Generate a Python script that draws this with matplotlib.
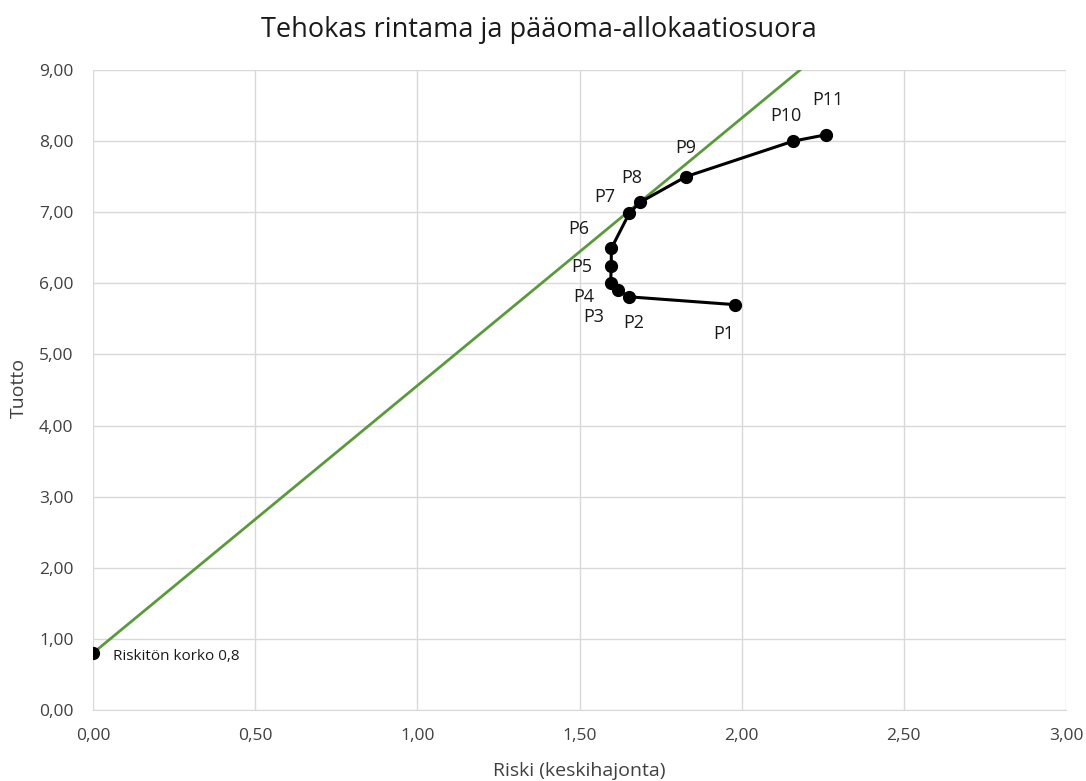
import matplotlib
matplotlib.use("Agg")
import matplotlib.pyplot as plt
from matplotlib.ticker import FuncFormatter, MultipleLocator

plt.rcParams['font.family'] = ['Open Sans', 'DejaVu Sans']

# tehokas rintama (portfoliot P1..P11)
labels = ["P1", "P2", "P3", "P4", "P5", "P6", "P7", "P8", "P9", "P10", "P11"]
risk = [1.98, 1.654, 1.619, 1.596, 1.598, 1.598, 1.654, 1.687, 1.828, 2.159, 2.261]
ret = [5.70, 5.81, 5.90, 6.01, 6.24, 6.49, 6.99, 7.14, 7.50, 8.00, 8.09]

# pääoma-allokaatiosuora
cal_x = [0.0, 2.18]
cal_y = [0.8, 9.0]
rf_x, rf_y = 0.0, 0.8

# label offsets in pixels
offsets = [(-11, -29), (4, -26), (-24, -27), (-27, -14), (-30, -1), (-33, 19),
           (-25, 16), (-8, 24), (0, 29), (-7, 25), (2, 35)]

W, H = 1086, 781
fig = plt.figure(figsize=(W / 100, H / 100), dpi=100)
ax = fig.add_axes([93 / W, 1 - 710 / H, 973 / W, 640 / H])

ax.plot(cal_x, cal_y, color="#5b9a3c", lw=2.0, zorder=2)
ax.plot(risk, ret, color="black", lw=2.2, marker="o", ms=8.5, zorder=3)
ax.plot([rf_x], [rf_y], color="black", marker="o", ms=8.5, zorder=3)

for lab, x, y, off in zip(labels, risk, ret, offsets):
    ax.annotate(lab, (x, y), xytext=off, textcoords="offset pixels",
                ha="center", va="center", fontsize=13, color="#1a1a1a")
ax.annotate("Riskitön korko 0,8", (rf_x, rf_y), xytext=(20, -3),
            textcoords="offset pixels", ha="left", va="center",
            fontsize=11, color="#1a1a1a")

ax.set_xlim(0, 3)
ax.set_ylim(0, 9)
ax.xaxis.set_major_locator(MultipleLocator(0.5))
ax.yaxis.set_major_locator(MultipleLocator(1.0))
fmt = FuncFormatter(lambda v, p: f"{v:.2f}".replace(".", ","))
ax.xaxis.set_major_formatter(fmt)
ax.yaxis.set_major_formatter(fmt)
ax.grid(True, color="#d9d9d9", lw=1.0, zorder=0)
ax.set_axisbelow(True)
for s in ["top", "right", "left"]:
    ax.spines[s].set_visible(False)
ax.spines["bottom"].set_color("#d9d9d9")
ax.tick_params(length=0, labelsize=12.5, colors="#404040")
ax.tick_params(axis="x", pad=13)
ax.tick_params(axis="y", pad=14)

fig.text(579 / W, 1 - 771 / H, "Riski (keskihajonta)", ha="center", va="center",
         fontsize=14, color="#404040")
fig.text(19 / W, 1 - 388 / H, "Tuotto", ha="center", va="center", rotation=90,
         fontsize=14, color="#404040")
fig.text(539 / W, 1 - 30 / H, "Tehokas rintama ja pääoma-allokaatiosuora",
         ha="center", va="center", fontsize=19.5, color="#1a1a1a")

fig.savefig("out.png", dpi=100)
